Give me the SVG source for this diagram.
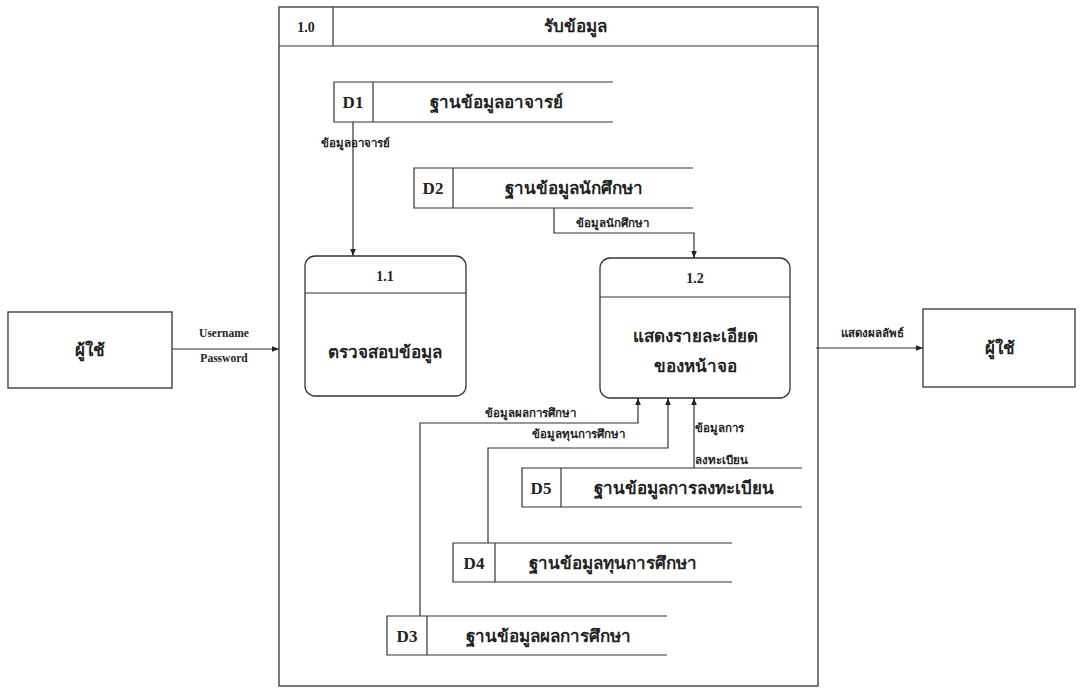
<svg xmlns="http://www.w3.org/2000/svg" width="1084" height="688" viewBox="0 0 1084 688">
  <defs>
    <marker id="arr" viewBox="0 0 10 10" refX="10" refY="5" markerWidth="7" markerHeight="7" orient="auto" markerUnits="userSpaceOnUse">
      <path d="M0,1 L10,5 L0,9 z" fill="#222"/>
    </marker>
  </defs>
  <style>
    .box { fill: #fff; stroke: #333; stroke-width: 1.3; }
    .ln { fill: none; stroke: #333; stroke-width: 1.2; }
    .flow { fill: none; stroke: #333; stroke-width: 1.2; marker-end: url(#arr); }
    .t { font-family: "Liberation Serif", "Noto Sans", serif; font-weight: bold; fill: #222; text-anchor: middle; dominant-baseline: central; }
    .big { font-size: 17px; }
    .num { font-size: 14px; }
    .lbl { font-size: 11.5px; }
    .lbl-l { font-family: "Liberation Serif", "Noto Sans", serif; font-weight: bold; fill: #222; font-size: 11.5px; dominant-baseline: central; }
  </style>

  <!-- context process 1.0 frame -->
  <g id="p1_0">
    <rect class="box" x="279" y="7" width="539" height="679" stroke-width="1.6"/>
    <line class="ln" x1="279" y1="46" x2="818" y2="46"/>
    <line class="ln" x1="333" y1="7" x2="333" y2="46"/>
    <text class="t num" x="306" y="27">1.0</text>
    <text class="t big" x="575" y="26">รับข้อมูล</text>
  </g>

  <!-- external entities -->
  <g id="user_in">
    <rect class="box" x="8" y="312" width="164" height="76"/>
    <text class="t big" x="90" y="350">ผู้ใช้</text>
  </g>
  <g id="user_out">
    <rect class="box" x="923" y="309" width="152" height="78"/>
    <text class="t big" x="1000" y="348">ผู้ใช้</text>
  </g>

  <!-- sub-processes -->
  <g id="p1_1">
    <rect class="box" x="305" y="256" width="161" height="140" rx="10"/>
    <line class="ln" x1="305" y1="293" x2="466" y2="293"/>
    <text class="t num" x="385" y="276">1.1</text>
    <text class="t big" x="385" y="352">ตรวจสอบข้อมูล</text>
  </g>
  <g id="p1_2">
    <rect class="box" x="600" y="258" width="190" height="140" rx="10"/>
    <line class="ln" x1="600" y1="297" x2="790" y2="297"/>
    <text class="t num" x="695" y="278">1.2</text>
    <text class="t big" x="695" y="336">แสดงรายละเอียด</text>
    <text class="t big" x="695" y="366">ของหน้าจอ</text>
  </g>

  <!-- data stores -->
  <g id="d1">
    <polyline class="ln" points="613,82 334,82 334,122 613,122"/>
    <line class="ln" x1="373" y1="82" x2="373" y2="122"/>
    <text class="t big" x="353" y="102">D1</text>
    <text class="t big" x="496" y="102">ฐานข้อมูลอาจารย์</text>
  </g>
  <g id="d2">
    <polyline class="ln" points="693,168 414,168 414,208 693,208"/>
    <line class="ln" x1="453" y1="168" x2="453" y2="208"/>
    <text class="t big" x="433" y="188">D2</text>
    <text class="t big" x="574" y="188">ฐานข้อมูลนักศึกษา</text>
  </g>
  <g id="d5">
    <polyline class="ln" points="802,468 522,468 522,507 802,507"/>
    <line class="ln" x1="561" y1="468" x2="561" y2="507"/>
    <text class="t big" x="541" y="488">D5</text>
    <text class="t big" x="684" y="488">ฐานข้อมูลการลงทะเบียน</text>
  </g>
  <g id="d4">
    <polyline class="ln" points="732,543 453,543 453,582 732,582"/>
    <line class="ln" x1="495" y1="543" x2="495" y2="582"/>
    <text class="t big" x="474" y="563">D4</text>
    <text class="t big" x="613" y="563">ฐานข้อมูลทุนการศึกษา</text>
  </g>
  <g id="d3">
    <polyline class="ln" points="667,616 387,616 387,655 667,655"/>
    <line class="ln" x1="427" y1="616" x2="427" y2="655"/>
    <text class="t big" x="407" y="636">D3</text>
    <text class="t big" x="548" y="636">ฐานข้อมูลผลการศึกษา</text>
  </g>

  <!-- data flows -->
  <g id="flows">
    <path class="flow" d="M172,349 L279,349"/>
    <text class="t lbl" x="224" y="333">Username</text>
    <text class="t lbl" x="224" y="358">Password</text>

    <path class="flow" d="M816,348 L923,348"/>
    <text class="t lbl" x="872" y="333">แสดงผลลัพธ์</text>

    <path class="flow" d="M353,122 L353,256"/>
    <text class="t lbl" x="355" y="143">ข้อมูลอาจารย์</text>

    <path class="flow" d="M554,208 L554,233 L694,233 L694,258"/>
    <text class="t lbl" x="612" y="223">ข้อมูลนักศึกษา</text>

    <path class="flow" d="M420,616 L420,423 L638,423 L638,398"/>
    <text class="t lbl" x="530" y="413">ข้อมูลผลการศึกษา</text>

    <path class="flow" d="M488,543 L488,448 L668,448 L668,398"/>
    <text class="t lbl" x="578" y="434">ข้อมูลทุนการศึกษา</text>

    <path class="flow" d="M694,468 L694,398"/>
    <text class="lbl-l" x="695" y="428">ข้อมูลการ</text>
    <text class="lbl-l" x="695" y="460">ลงทะเบียน</text>
  </g>
</svg>
